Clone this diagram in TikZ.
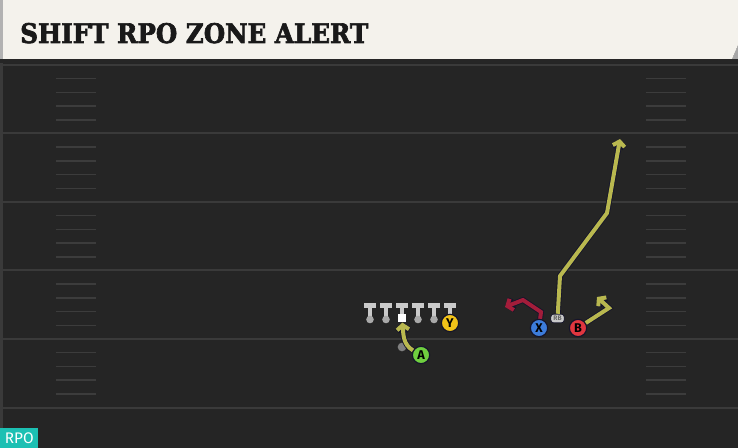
\documentclass[tikz,border=0pt]{standalone}
\usepackage{fontspec}
\usepackage{graphicx}
\usetikzlibrary{arrows.meta}
\newfontfamily\titlefont{DejaVu Serif}[BoldFeatures={FakeBold=2.5}]
\newfontfamily\plfont{Fira Sans}
\definecolor{field}{HTML}{252525}
\definecolor{yardcol}{HTML}{3A3A3A}
\definecolor{hashcol}{HTML}{3C3C3C}
\definecolor{headcol}{HTML}{F4F2EC}
\definecolor{routey}{HTML}{B9B84F}
\definecolor{router}{HTML}{A31D3A}
\definecolor{outl}{HTML}{15152A}
\definecolor{tcol}{HTML}{CACACA}
\definecolor{ballcol}{HTML}{A9A9A9}
\definecolor{dotcol}{HTML}{808080}
\definecolor{agreen}{HTML}{6FCF3F}
\definecolor{yyellow}{HTML}{F2C318}
\definecolor{xblue}{HTML}{3C7CDB}
\definecolor{bred}{HTML}{E0363F}
\definecolor{rpoteal}{HTML}{1CC0B3}
\tikzset{
  player/.style={circle,draw=outl,line width=0.9pt,inner sep=0pt,minimum size=13pt,
    font=\plfont\bfseries\fontsize{9.5}{9.5}\selectfont},
  yroute/.style={draw=routey,line width=3pt,-{Straight Barb[length=3.5pt,width=9pt]},
    preaction={draw=outl,line width=4.3pt}},
  rroute/.style={draw=router,line width=3pt,-{Straight Barb[length=3.5pt,width=9pt]},
    preaction={draw=outl,line width=4.3pt}}
}
\begin{document}
\begin{tikzpicture}[x=0.75pt,y=-0.75pt]
\useasboundingbox (0,0) rectangle (738,448);
\fill[field] (0,0) rectangle (738,448);
\fill[yardcol] (0,59) rectangle (2.5,448);
% yard lines and hashes
\foreach \k in {0,...,5} \draw[yardcol,line width=1.5pt] (0,65+68.5*\k)--(738,65+68.5*\k);
\foreach \k in {0,...,4} \foreach \j in {1,...,4} {
  \draw[hashcol,line width=1.1pt] (56,65+68.5*\k+13.7*\j)--(96,65+68.5*\k+13.7*\j);
  \draw[hashcol,line width=1.1pt] (646,65+68.5*\k+13.7*\j)--(686,65+68.5*\k+13.7*\j);
}
% header
\fill[black!85] (0,59) rectangle (738,63);
\fill[gray!70] (732,59)--(738,45)--(738,59)--cycle;
\fill[headcol] (0,0)--(738,0)--(738,45)--(732,59)--(0,59)--cycle;
\fill[gray!60] (0,0) rectangle (2.5,59);
\node (title) at (20,43) [anchor=base west,inner sep=0pt,text=black!90]
  {\resizebox{261pt}{15pt}{\titlefont\bfseries SHIFT RPO ZONE ALERT}};

% line
\foreach \x in {370,386,402,418,434,450} {
  \fill[tcol] (\x-6,303) rectangle (\x+6,308);
  \fill[tcol] (\x-2,308) rectangle (\x+2,317);
}
\foreach \x in {370,386,418,434} \fill[ballcol] (\x,319.5) circle (3.8);
\node (C) at (402,318) [fill=white,minimum size=6.5pt,inner sep=0pt]{};
\node (S) at (402,347) [circle,fill=dotcol,inner sep=0pt,minimum size=6.5pt]{};

\node[player,fill=yyellow] (Y) at (450,323) {Y};
\node[player,fill=agreen] (A) at (421,355) {A};
\node[player,fill=xblue] (X) at (539,328) {X};
\node[player,fill=bred] (B) at (578,328) {B};
\node (RB) at (557.5,318.5) [rounded corners=2pt,fill=tcol,draw=outl,line width=0.6pt,
  minimum width=10pt,minimum height=6.5pt,inner sep=0pt,text=black!60,
  font=\plfont\bfseries\fontsize{5}{5}\selectfont]{RB};

\coordinate (x1) at (541,312);
\coordinate (x2) at (523,300);
\coordinate (x3) at (505,307);
\coordinate (b1) at (609,308);
\coordinate (b2) at (597,297);
\coordinate (r1) at (560,276);
\coordinate (r2) at (607,213);
\coordinate (r3) at (620,139);

\draw[yroute] (A) to[out=150,in=-85] (C);
\draw[rroute] (X) -- (x1) -- (x2) -- (x3);
\draw[yroute] (B) -- (b1) -- (b2);
\draw[yroute] (RB) -- (r1) -- (r2) -- (r3);

\node (rpo) at (0,448) [anchor=south west,fill=rpoteal,minimum width=28.5pt,minimum height=15pt,
  inner sep=0pt,text=white,font=\plfont\fontsize{11.5}{12}\selectfont]{RPO};
\end{tikzpicture}
\end{document}
